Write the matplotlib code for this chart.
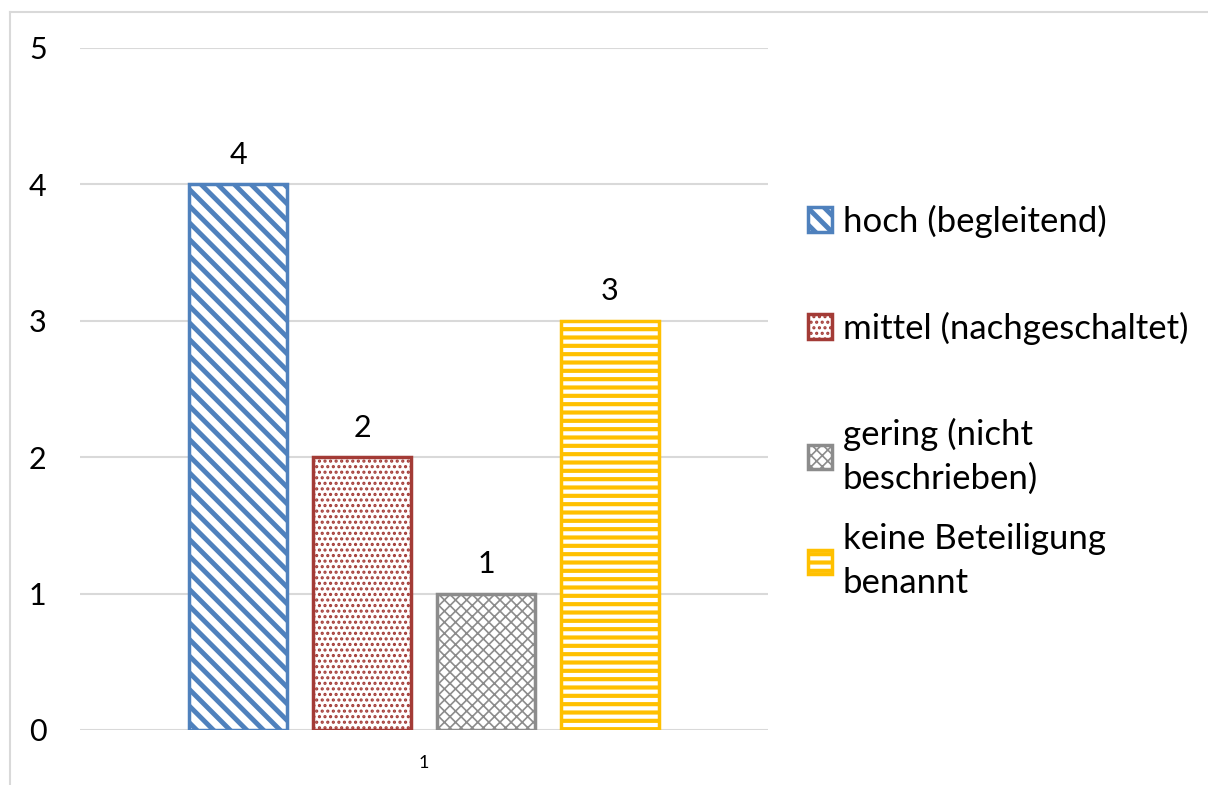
import matplotlib.pyplot as plt
from matplotlib.lines import Line2D

plt.rcParams['font.family'] = ['Lato', 'DejaVu Sans']

categories = ['1']
labels = ['hoch (begleitend)', 'mittel (nachgeschaltet)',
          'gering (nicht\nbeschrieben)', 'keine Beteiligung\nbenannt']
values = [4, 2, 1, 3]
colors = ['#4F81BD', '#A33B36', '#8C8C8C', '#FFC000']
hatches = ['\\\\', '...', 'xxx', '--']
hatch_widths = [3.5, 1.5, 1.2, 3.0]

fig = plt.figure(figsize=(12.08, 7.85), dpi=100)
ax = fig.add_axes([0.0662, 0.0701, 0.5695, 0.8688])

width = 0.1424
step = 0.1802
legend_y = [0.7185, 0.5822, 0.4191, 0.2854]
for i, (lab, v, c, h) in enumerate(zip(labels, values, colors, hatches)):
    plt.rcParams['hatch.linewidth'] = hatch_widths[i]
    x = (i - 1.5) * step
    b = ax.bar(x, v, width, color='white', edgecolor=c, hatch=h,
               linewidth=2.5, label=lab, zorder=3)
    ax.bar_label(b, padding=11, fontsize=22)
    leg = fig.legend(handles=[b], labels=[lab], loc='center left',
                     bbox_to_anchor=(0.669, legend_y[i]), frameon=False,
                     fontsize=25, handlelength=0.7, handleheight=0.7,
                     handletextpad=0.3, borderpad=0, borderaxespad=0)
    for t in leg.get_texts():
        t.set_linespacing(1.45)

ax.set_xlim(-0.5, 0.5)
ax.set_ylim(0, 5)
ax.set_xticks([0])
ax.set_xticklabels(categories, fontsize=13)
ax.set_yticks(range(6))
ax.tick_params(axis='y', labelsize=22, length=0, pad=24)
ax.tick_params(axis='x', length=0, pad=18)
ax.grid(axis='y', color='#D9D9D9', linewidth=1.5, zorder=0)
for s in ax.spines.values():
    s.set_visible(False)

# chart area border
fig.add_artist(Line2D([0.008, 0.008], [0, 0.985], transform=fig.transFigure,
                      color='#D9D9D9', linewidth=1.5))
fig.add_artist(Line2D([0.008, 1], [0.985, 0.985], transform=fig.transFigure,
                      color='#D9D9D9', linewidth=1.5))

fig.savefig('out.png', dpi=100)
